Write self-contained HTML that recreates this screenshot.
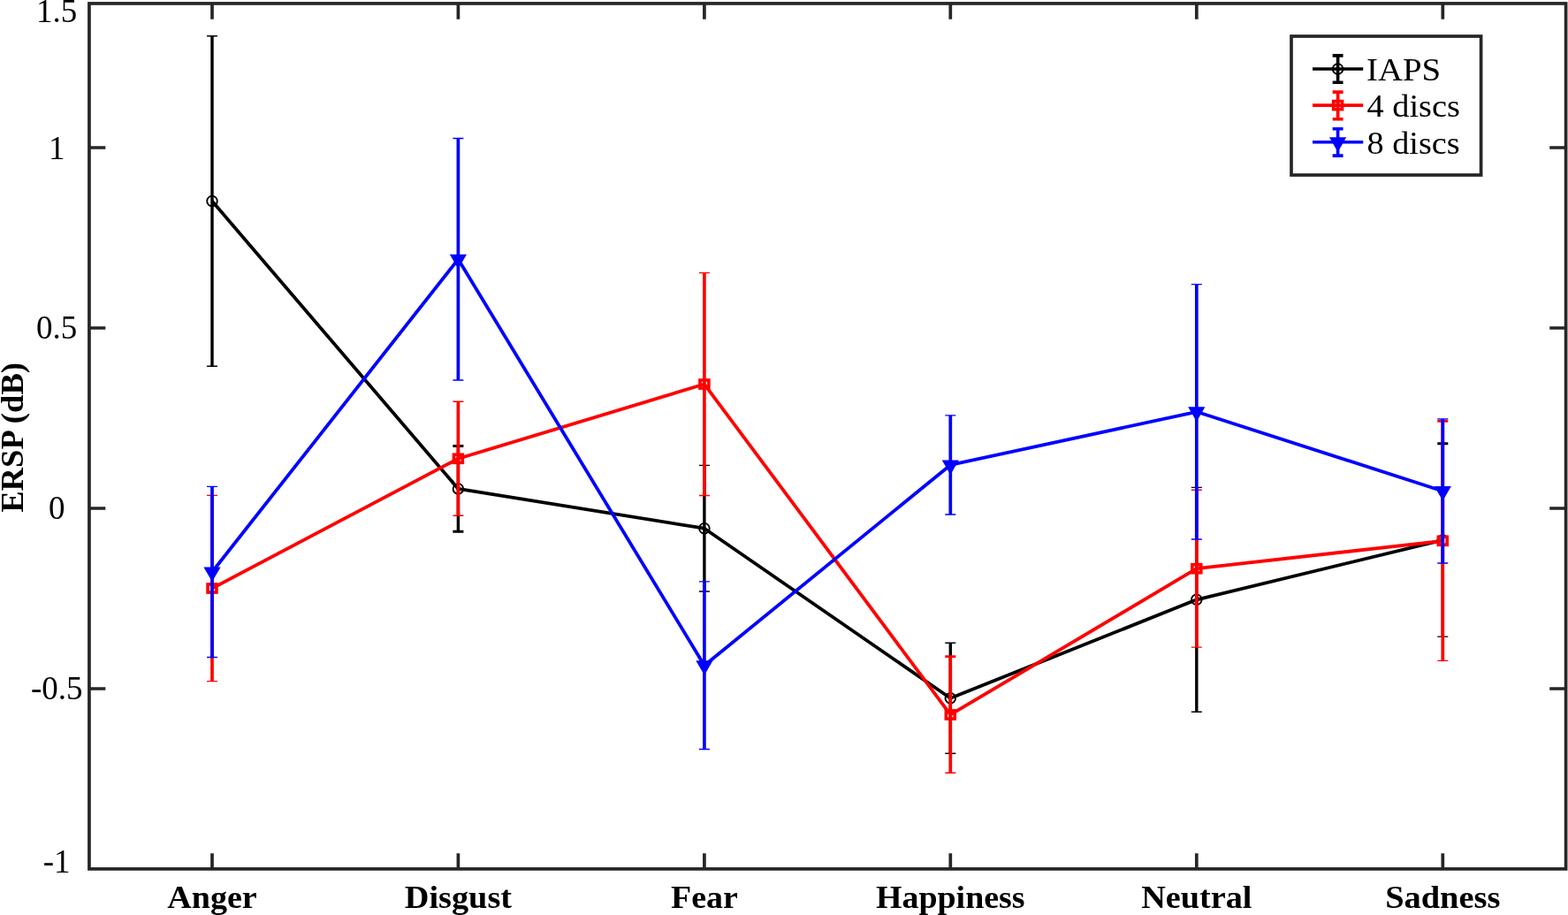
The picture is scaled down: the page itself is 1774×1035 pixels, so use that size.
<!DOCTYPE html>
<html><head><meta charset="utf-8"><title>ERSP</title>
<style>
html,body{margin:0;padding:0;background:#fff;}
body{width:1774px;height:1035px;overflow:hidden;}
svg{display:block;}
text{font-family:"Liberation Serif","Times New Roman",serif;font-size:37px;fill:#000;}
.tk{text-anchor:middle;}
.xl{text-anchor:middle;font-weight:bold;font-size:36px;}
.yl{text-anchor:middle;font-weight:bold;font-size:36.3px;}
.lg{text-anchor:start;font-size:36.6px;}
</style></head>
<body>
<svg width="1774" height="1035" viewBox="0 0 1774 1035">
<rect x="100.95" y="3.95" width="1670.65" height="978.95" fill="none" stroke="#262626" stroke-width="3.7"/>
<path d="M100.95 167H119.35M1771.6 167H1753.2M100.95 371H119.35M1771.6 371H1753.2M100.95 575H119.35M1771.6 575H1753.2M100.95 779H119.35M1771.6 779H1753.2M240 3.95V21.65M240 982.9V965.2M518.4 3.95V21.65M518.4 982.9V965.2M796.9 3.95V21.65M796.9 982.9V965.2M1075.3 3.95V21.65M1075.3 982.9V965.2M1353.8 3.95V21.65M1353.8 982.9V965.2M1632.3 3.95V21.65M1632.3 982.9V965.2" stroke="#262626" stroke-width="3.7" fill="none"/>
<g><path d="M240 40.7V414.3M518.4 504.5V601.3M796.9 526.4V669M1075.3 727.3V852.2M1353.8 551.4V805.2M1632.3 501.7V720.1" stroke="#000000" stroke-width="3.4" fill="none"/><path d="M234 40.7H246M234 414.3H246M790.9 526.4H802.9M790.9 669H802.9M1069.3 727.3H1081.3M1069.3 852.2H1081.3M1347.8 551.4H1359.8M1347.8 805.2H1359.8M1626.3 720.1H1638.3" stroke="#000000" stroke-width="1.4" fill="none"/><path d="M512.4 504.5H524.4M512.4 601.3H524.4M1626.3 501.7H1638.3" stroke="#000000" stroke-width="2.9" fill="none"/><polyline points="240,227.5 518.4,552.9 796.9,597.7 1075.3,789.75 1353.8,678.3 1632.3,610.9" stroke="#000000" stroke-width="3.8" fill="none" stroke-linejoin="round"/><circle cx="240" cy="227.5" r="5.8" fill="none" stroke="#000000" stroke-width="1.9"/><circle cx="518.4" cy="552.9" r="5.8" fill="none" stroke="#000000" stroke-width="1.9"/><circle cx="796.9" cy="597.7" r="5.8" fill="none" stroke="#000000" stroke-width="1.9"/><circle cx="1075.3" cy="789.75" r="5.8" fill="none" stroke="#000000" stroke-width="1.9"/><circle cx="1353.8" cy="678.3" r="5.8" fill="none" stroke="#000000" stroke-width="1.9"/><circle cx="1632.3" cy="610.9" r="5.8" fill="none" stroke="#000000" stroke-width="1.9"/></g>
<g><path d="M240 560.4V770.6M518.4 454.3V583.3M796.9 308.6V560.5M1075.3 742.6V874.3M1353.8 554.3V732.1M1632.3 476.2V747.4" stroke="#ff0000" stroke-width="3.7" fill="none"/><path d="M234 560.4H246M234 770.6H246M512.4 454.3H524.4M512.4 583.3H524.4M790.9 308.6H802.9M790.9 560.5H802.9M1069.3 874.3H1081.3M1347.8 554.3H1359.8M1347.8 732.1H1359.8M1626.3 747.4H1638.3" stroke="#ff0000" stroke-width="1.4" fill="none"/><path d="M1069.3 742.6H1081.3M1626.3 476.2H1638.3" stroke="#ff0000" stroke-width="2.9" fill="none"/><polyline points="240,665.5 518.4,518.8 796.9,434.55 1075.3,808.45 1353.8,643.2 1632.3,611.8" stroke="#ff0000" stroke-width="3.8" fill="none" stroke-linejoin="round"/><rect x="235.05" y="660.95" width="9.9" height="9.1" fill="none" stroke="#ff0000" stroke-width="3.6"/><rect x="513.45" y="514.25" width="9.9" height="9.1" fill="none" stroke="#ff0000" stroke-width="3.6"/><rect x="791.95" y="430" width="9.9" height="9.1" fill="none" stroke="#ff0000" stroke-width="3.6"/><rect x="1070.35" y="803.9" width="9.9" height="9.1" fill="none" stroke="#ff0000" stroke-width="3.6"/><rect x="1348.85" y="638.65" width="9.9" height="9.1" fill="none" stroke="#ff0000" stroke-width="3.6"/><rect x="1627.35" y="607.25" width="9.9" height="9.1" fill="none" stroke="#ff0000" stroke-width="3.6"/></g>
<g><path d="M240 550.4V743.5M518.4 156.5V430M796.9 657.9V847.5M1075.3 469.9V582M1353.8 321.6V610M1632.3 473.9V637" stroke="#0000ff" stroke-width="3.7" fill="none"/><path d="M234 550.4H246M234 743.5H246M512.4 156.5H524.4M512.4 430H524.4M790.9 657.9H802.9M790.9 847.5H802.9M1069.3 469.9H1081.3M1069.3 582H1081.3M1347.8 321.6H1359.8M1347.8 610H1359.8M1626.3 473.9H1638.3M1626.3 637H1638.3" stroke="#0000ff" stroke-width="1.4" fill="none"/><polyline points="240,646.95 518.4,293.25 796.9,752.7 1075.3,525.95 1353.8,465.8 1632.3,555.45" stroke="#0000ff" stroke-width="3.8" fill="none" stroke-linejoin="round"/><polygon points="230.4,641.4 249.6,641.4 240,658.05" fill="#0000ff"/><polygon points="508.8,287.7 528,287.7 518.4,304.35" fill="#0000ff"/><polygon points="787.3,747.15 806.5,747.15 796.9,763.8" fill="#0000ff"/><polygon points="1065.7,520.4 1084.9,520.4 1075.3,537.05" fill="#0000ff"/><polygon points="1344.2,460.25 1363.4,460.25 1353.8,476.9" fill="#0000ff"/><polygon points="1622.7,549.9 1641.9,549.9 1632.3,566.55" fill="#0000ff"/></g>
<g><rect x="1461" y="41" width="214.6" height="157" fill="#fff" stroke="#262626" stroke-width="3.7"/><path d="M1485 78.0H1542.2M1513.6 62.9V93.2" stroke="#000000" stroke-width="3.6" fill="none"/><path d="M1507.65 62.9H1519.55M1507.65 93.2H1519.55" stroke="#000000" stroke-width="3.6" fill="none"/><circle cx="1513.6" cy="78" r="5.8" fill="none" stroke="#000000" stroke-width="1.9"/><text x="1546.0" y="91.1" class="lg" textLength="84.2" lengthAdjust="spacingAndGlyphs">IAPS</text><path d="M1485 119.1H1542.2M1513.6 104.1V134.7" stroke="#ff0000" stroke-width="3.6" fill="none"/><path d="M1507.65 104.1H1519.55M1507.65 134.7H1519.55" stroke="#ff0000" stroke-width="3.6" fill="none"/><rect x="1508.65" y="114.55" width="9.9" height="9.1" fill="none" stroke="#ff0000" stroke-width="3.6"/><text x="1546.5" y="132.4" class="lg" textLength="105.4" lengthAdjust="spacingAndGlyphs">4 discs</text><path d="M1485 160.8H1542.2M1513.6 145.7V176.1" stroke="#0000ff" stroke-width="3.6" fill="none"/><path d="M1507.65 145.7H1519.55M1507.65 176.1H1519.55" stroke="#0000ff" stroke-width="3.6" fill="none"/><polygon points="1504,155.25 1523.2,155.25 1513.6,171.9" fill="#0000ff"/><text x="1546.5" y="173.9" class="lg" textLength="105.2" lengthAdjust="spacingAndGlyphs">8 discs</text></g>
<text x="64.2" y="25.0" class="tk">1.5</text>
<text x="64.2" y="179.9" class="tk">1</text>
<text x="64.2" y="383.2" class="tk">0.5</text>
<text x="64.2" y="587.2" class="tk">0</text>
<text x="64.2" y="791.0" class="tk">-0.5</text>
<text x="64.2" y="987.1" class="tk">-1</text>
<text x="240" y="1027.3" class="xl" textLength="101.56" lengthAdjust="spacingAndGlyphs">Anger</text>
<text x="518.4" y="1027.3" class="xl" textLength="121.3" lengthAdjust="spacingAndGlyphs">Disgust</text>
<text x="796.9" y="1027.3" class="xl" textLength="75.85" lengthAdjust="spacingAndGlyphs">Fear</text>
<text x="1075.3" y="1027.3" class="xl" textLength="168.5" lengthAdjust="spacingAndGlyphs">Happiness</text>
<text x="1353.8" y="1027.3" class="xl" textLength="125.35" lengthAdjust="spacingAndGlyphs">Neutral</text>
<text x="1632.3" y="1027.3" class="xl" textLength="130.35" lengthAdjust="spacingAndGlyphs">Sadness</text>
<text transform="translate(25.5 494.9) rotate(-90)" class="yl" textLength="169.8" lengthAdjust="spacingAndGlyphs">ERSP (dB)</text>
</svg>
</body></html>
